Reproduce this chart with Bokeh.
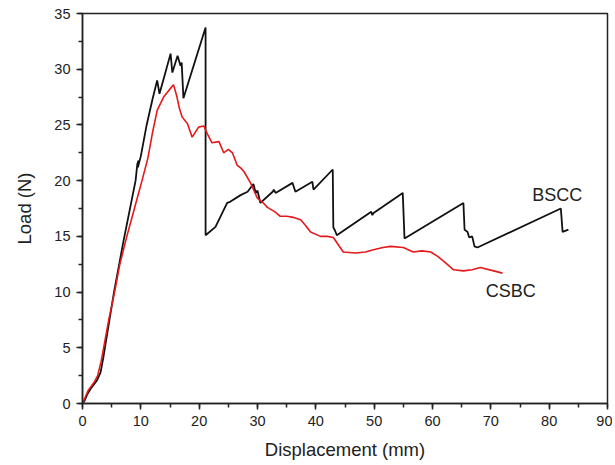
from bokeh.plotting import figure
from bokeh.models import Range1d, SingleIntervalTicker
from bokeh.core.properties import value
from bokeh.embed import file_html
from bokeh.resources import INLINE

# BSCC (black)
bscc_x = [0, 0.3, 0.8, 1.5, 2.5, 3.1, 3.6, 4.0, 5.4, 7.0, 9.1, 9.4, 9.6, 9.5, 10.0, 11.0, 12.0, 12.8, 13.2,
          14.0, 15.1, 15.4, 16.3, 16.8, 17.0, 17.3, 21.1, 21.1, 22.8, 24.8, 25.3, 27.1, 28.3, 29.3, 29.7,
          30.0, 30.5, 32.6, 32.8, 33.1, 36.0, 36.5, 39.4, 39.6, 42.9, 43.0, 43.3, 43.6, 49.5, 49.7, 49.9,
          54.9, 55.2, 65.3, 65.5, 66.0, 66.3, 66.8, 67.2, 67.7, 82.0, 82.3, 83.3]
bscc_y = [0, 0.2, 0.8, 1.4, 2.1, 2.8, 4.2, 5.5, 10.0, 14.5, 20.0, 21.5, 21.8, 21.2, 22.2, 25.0, 27.3, 29.0, 27.8,
          29.3, 31.4, 29.7, 31.2, 30.3, 30.6, 27.4, 33.75, 15.1, 15.85, 18.0, 18.1, 18.7, 19.0, 19.7, 18.9,
          19.1, 18.0, 19.0, 19.2, 18.9, 19.8, 19.0, 19.9, 19.2, 21.0, 15.8, 15.5, 15.1, 17.2, 16.9, 17.1,
          18.9, 14.8, 18.0, 15.6, 15.4, 14.9, 15.0, 14.1, 14.0, 17.5, 15.4, 15.6]

# CSBC (red)
csbc_x = [0, 0.5, 1.0, 2.0, 2.6, 3.2, 3.8, 4.5, 5.5, 6.4, 7.6, 8.9, 10.2, 11.2, 12.0, 12.8, 13.9, 14.8, 15.6,
          16.2, 16.6, 17.1, 18.0, 18.8, 19.9, 20.8, 21.4, 22.2, 23.4, 24.2, 25.0, 25.7, 26.5, 27.2, 27.7,
          28.8, 30.0, 31.0, 31.7, 33.0, 33.9, 35.0, 36.2, 37.4, 38.2, 39.1, 40.8, 42.0, 43.0, 44.7, 46.8,
          48.5, 49.9, 51.5, 52.8, 55.0, 56.7, 58.2, 59.7, 60.9, 62.3, 63.6, 65.3, 66.8, 68.2, 70.5, 72.0]
csbc_y = [0, 0.6, 1.2, 1.9, 2.5, 3.8, 5.5, 7.5, 10.0, 12.5, 15.0, 17.5, 20.0, 22.0, 24.3, 26.3, 27.5, 28.1, 28.6,
          27.5, 26.5, 25.7, 25.1, 23.9, 24.8, 24.9, 24.2, 23.4, 23.5, 22.5, 22.8, 22.5, 21.4, 21.1, 20.8,
          19.8, 18.4, 18.0, 17.6, 17.2, 16.8, 16.8, 16.7, 16.5, 16.0, 15.4, 15.0, 15.0, 14.9, 13.6, 13.5,
          13.6, 13.8, 14.0, 14.1, 14.0, 13.6, 13.7, 13.6, 13.2, 12.6, 12.0, 11.9, 12.0, 12.2, 11.9, 11.7]

series_labels = ["BSCC", "CSBC"]
label_x = [81.4, 73.4]
label_y = [18.7, 10.1]

FONT = "Liberation Sans"

p = figure(width=612, height=462, output_backend="svg", toolbar_location=None,
           x_range=Range1d(0, 90), y_range=Range1d(0, 35),
           min_border_left=82, min_border_right=5, min_border_top=13, min_border_bottom=58)

p.line(bscc_x, bscc_y, line_color="#111111", line_width=1.8)
p.line(csbc_x, csbc_y, line_color="#e3191c", line_width=1.6)

p.text(x=label_x, y=label_y, text=series_labels, text_font=value(FONT), text_font_size="18px",
       text_color="#222222", text_align="center", text_baseline="middle")

p.xgrid.visible = False
p.ygrid.visible = False
p.outline_line_color = "#222222"
p.outline_line_width = 1.5
p.background_fill_color = "white"
p.border_fill_color = "white"

p.xaxis.ticker = SingleIntervalTicker(interval=10, num_minor_ticks=2)
p.yaxis.ticker = SingleIntervalTicker(interval=5, num_minor_ticks=2)

for ax in (p.xaxis[0], p.yaxis[0]):
    ax.axis_line_color = "#222222"
    ax.axis_line_width = 1.5
    ax.major_tick_line_color = "#222222"
    ax.major_tick_line_width = 1.5
    ax.minor_tick_line_color = "#222222"
    ax.minor_tick_line_width = 1.5
    ax.major_tick_out = 6
    ax.major_tick_in = 0
    ax.minor_tick_out = 4
    ax.minor_tick_in = 0
    ax.major_label_text_font = FONT
    ax.major_label_text_font_size = "14.5px"
    ax.major_label_text_color = "#222222"
    ax.axis_label_text_font = FONT
    ax.axis_label_text_font_size = "18.5px"
    ax.axis_label_text_font_style = "normal"
    ax.axis_label_text_color = "#222222"

p.xaxis.axis_label = "Displacement (mm)"
p.yaxis.axis_label = "Load (N)"
p.xaxis.major_label_standoff = 6
p.yaxis.major_label_standoff = 6
p.xaxis.axis_label_standoff = 10
p.yaxis.axis_label_standoff = 16
p.yaxis.major_label_orientation = "horizontal"

open("out.html", "w").write(file_html(p, INLINE))
